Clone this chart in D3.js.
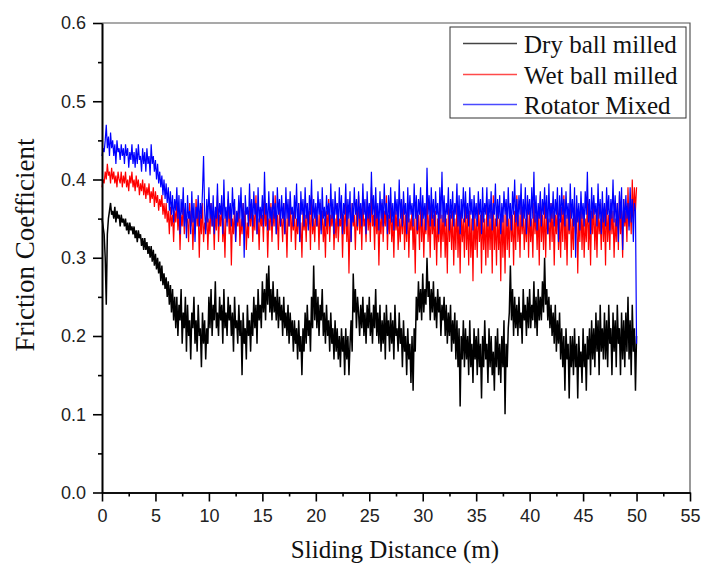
<!DOCTYPE html>
<html>
<head>
<meta charset="utf-8">
<script src="https://cdn.jsdelivr.net/npm/d3@7"></script>
<style>
  body { margin: 0; background: #fff; }
  svg { display: block; }
  .title { font-family: "Liberation Serif", "Times New Roman", serif; font-size: 25px; fill: #111; }
</style>
</head>
<body>
<svg id="chart" width="702" height="564"></svg>
<script>
// traces read every 0.1 m, 0 .. 50 m (one row = 1 m)
var step = 0.1;

var dryBallMilled = [
  0.35, 0.34, 0.33, 0.30, 0.24, 0.33, 0.35, 0.36, 0.37, 0.355,
  0.36, 0.35, 0.365, 0.345, 0.36, 0.35, 0.355, 0.34, 0.355, 0.345,
  0.35, 0.34, 0.35, 0.335, 0.345, 0.33, 0.345, 0.335, 0.34, 0.33,
  0.34, 0.325, 0.335, 0.32, 0.335, 0.325, 0.33, 0.315, 0.325, 0.31,
  0.325, 0.31, 0.32, 0.305, 0.315, 0.30, 0.315, 0.295, 0.31, 0.29,
  0.305, 0.285, 0.30, 0.28, 0.295, 0.27, 0.29, 0.265, 0.28, 0.26,
  0.275, 0.25, 0.27, 0.24, 0.265, 0.23, 0.26, 0.22, 0.25, 0.21,
  0.25, 0.20, 0.24, 0.22, 0.26, 0.19, 0.23, 0.21, 0.25, 0.18,
  0.24, 0.20, 0.22, 0.17, 0.23, 0.21, 0.25, 0.19, 0.22, 0.18,
  0.24, 0.20, 0.21, 0.16, 0.23, 0.19, 0.22, 0.17, 0.21, 0.19,
  0.25, 0.21, 0.26, 0.20, 0.24, 0.22, 0.27, 0.21, 0.23, 0.20,
  0.25, 0.22, 0.24, 0.19, 0.26, 0.21, 0.23, 0.20, 0.25, 0.22,
  0.24, 0.20, 0.23, 0.18, 0.25, 0.21, 0.22, 0.19, 0.24, 0.20,
  0.22, 0.15, 0.23, 0.19, 0.21, 0.17, 0.24, 0.20, 0.22, 0.18,
  0.23, 0.20, 0.25, 0.21, 0.24, 0.19, 0.26, 0.22, 0.24, 0.21,
  0.27, 0.23, 0.26, 0.22, 0.28, 0.24, 0.29, 0.23, 0.26, 0.22,
  0.27, 0.23, 0.25, 0.22, 0.26, 0.21, 0.25, 0.22, 0.24, 0.20,
  0.25, 0.21, 0.23, 0.20, 0.24, 0.19, 0.23, 0.20, 0.22, 0.18,
  0.22, 0.19, 0.21, 0.17, 0.22, 0.18, 0.20, 0.15, 0.21, 0.18,
  0.23, 0.19, 0.24, 0.20, 0.22, 0.18, 0.25, 0.21, 0.29, 0.22,
  0.26, 0.21, 0.25, 0.20, 0.24, 0.22, 0.26, 0.20, 0.23, 0.19,
  0.24, 0.20, 0.22, 0.18, 0.23, 0.19, 0.21, 0.17, 0.22, 0.18,
  0.21, 0.17, 0.20, 0.16, 0.21, 0.18, 0.20, 0.15, 0.21, 0.17,
  0.20, 0.15, 0.19, 0.22, 0.18, 0.28, 0.23, 0.26, 0.21, 0.25,
  0.23, 0.20, 0.24, 0.21, 0.25, 0.20, 0.23, 0.19, 0.24, 0.21,
  0.25, 0.20, 0.23, 0.19, 0.24, 0.21, 0.26, 0.20, 0.23, 0.19,
  0.24, 0.18, 0.22, 0.19, 0.23, 0.17, 0.24, 0.20, 0.22, 0.18,
  0.23, 0.19, 0.22, 0.17, 0.24, 0.20, 0.21, 0.18, 0.23, 0.19,
  0.21, 0.16, 0.22, 0.18, 0.20, 0.15, 0.21, 0.17, 0.19, 0.14,
  0.20, 0.13, 0.21, 0.18, 0.25, 0.22, 0.27, 0.23, 0.26, 0.22,
  0.28, 0.23, 0.26, 0.24, 0.30, 0.25, 0.27, 0.22, 0.26, 0.23,
  0.27, 0.22, 0.25, 0.21, 0.26, 0.23, 0.25, 0.20, 0.24, 0.22,
  0.25, 0.20, 0.24, 0.19, 0.23, 0.20, 0.24, 0.18, 0.22, 0.19,
  0.23, 0.17, 0.22, 0.16, 0.21, 0.11, 0.20, 0.17, 0.22, 0.16,
  0.21, 0.17, 0.20, 0.15, 0.22, 0.16, 0.19, 0.14, 0.21, 0.17,
  0.20, 0.15, 0.21, 0.16, 0.19, 0.12, 0.20, 0.16, 0.22, 0.17,
  0.19, 0.14, 0.21, 0.16, 0.20, 0.15, 0.18, 0.13, 0.20, 0.16,
  0.21, 0.15, 0.19, 0.14, 0.20, 0.16, 0.22, 0.10, 0.19, 0.16,
  0.21, 0.23, 0.29, 0.22, 0.26, 0.20, 0.25, 0.21, 0.24, 0.20,
  0.25, 0.21, 0.23, 0.19, 0.26, 0.22, 0.24, 0.20, 0.25, 0.21,
  0.26, 0.21, 0.24, 0.22, 0.27, 0.21, 0.25, 0.20, 0.26, 0.22,
  0.25, 0.22, 0.27, 0.23, 0.30, 0.24, 0.26, 0.22, 0.25, 0.21,
  0.24, 0.20, 0.23, 0.19, 0.24, 0.18, 0.22, 0.19, 0.23, 0.17,
  0.21, 0.16, 0.20, 0.13, 0.21, 0.17, 0.19, 0.12, 0.20, 0.16,
  0.20, 0.15, 0.21, 0.16, 0.19, 0.12, 0.20, 0.16, 0.18, 0.14,
  0.21, 0.16, 0.19, 0.13, 0.20, 0.17, 0.21, 0.15, 0.22, 0.17,
  0.21, 0.16, 0.23, 0.18, 0.22, 0.15, 0.24, 0.18, 0.21, 0.17,
  0.23, 0.17, 0.22, 0.16, 0.24, 0.19, 0.21, 0.15, 0.23, 0.18,
  0.22, 0.16, 0.24, 0.19, 0.21, 0.15, 0.23, 0.17, 0.22, 0.16,
  0.23, 0.18, 0.25, 0.17, 0.22, 0.15, 0.24, 0.18, 0.21, 0.13,
  0.20
];

var wetBallMilled = [
  0.39, 0.40, 0.395, 0.41, 0.40, 0.42, 0.405, 0.41, 0.395, 0.415,
  0.40, 0.41, 0.395, 0.405, 0.39, 0.41, 0.40, 0.395, 0.41, 0.39,
  0.405, 0.395, 0.41, 0.39, 0.40, 0.385, 0.405, 0.395, 0.41, 0.39,
  0.40, 0.385, 0.405, 0.39, 0.40, 0.38, 0.395, 0.385, 0.40, 0.38,
  0.395, 0.375, 0.39, 0.38, 0.395, 0.37, 0.385, 0.375, 0.39, 0.365,
  0.385, 0.37, 0.38, 0.36, 0.375, 0.365, 0.38, 0.355, 0.37, 0.35,
  0.37, 0.345, 0.36, 0.33, 0.365, 0.34, 0.355, 0.32, 0.36, 0.345,
  0.37, 0.335, 0.36, 0.31, 0.355, 0.34, 0.37, 0.33, 0.36, 0.345,
  0.35, 0.32, 0.37, 0.34, 0.36, 0.31, 0.35, 0.33, 0.375, 0.34,
  0.36, 0.30, 0.355, 0.33, 0.37, 0.32, 0.345, 0.335, 0.36, 0.31,
  0.35, 0.33, 0.37, 0.34, 0.355, 0.31, 0.36, 0.335, 0.38, 0.32,
  0.355, 0.34, 0.37, 0.32, 0.35, 0.30, 0.36, 0.345, 0.375, 0.33,
  0.36, 0.29, 0.35, 0.33, 0.365, 0.32, 0.355, 0.34, 0.37, 0.315,
  0.35, 0.33, 0.37, 0.34, 0.36, 0.31, 0.345, 0.325, 0.365, 0.34,
  0.37, 0.32, 0.355, 0.335, 0.38, 0.33, 0.35, 0.31, 0.36, 0.34,
  0.355, 0.32, 0.375, 0.34, 0.36, 0.30, 0.35, 0.335, 0.37, 0.32,
  0.36, 0.34, 0.38, 0.33, 0.355, 0.31, 0.365, 0.34, 0.35, 0.32,
  0.37, 0.33, 0.35, 0.30, 0.36, 0.34, 0.375, 0.32, 0.355, 0.335,
  0.36, 0.31, 0.35, 0.33, 0.37, 0.32, 0.345, 0.30, 0.36, 0.335,
  0.355, 0.32, 0.37, 0.34, 0.36, 0.31, 0.38, 0.33, 0.35, 0.32,
  0.365, 0.34, 0.355, 0.31, 0.37, 0.335, 0.36, 0.32, 0.35, 0.30,
  0.36, 0.33, 0.375, 0.32, 0.355, 0.34, 0.365, 0.31, 0.35, 0.325,
  0.37, 0.32, 0.35, 0.34, 0.36, 0.30, 0.355, 0.33, 0.375, 0.32,
  0.36, 0.28, 0.35, 0.32, 0.37, 0.34, 0.355, 0.31, 0.36, 0.335,
  0.38, 0.33, 0.36, 0.31, 0.37, 0.34, 0.35, 0.32, 0.375, 0.335,
  0.36, 0.32, 0.39, 0.34, 0.355, 0.31, 0.37, 0.33, 0.36, 0.29,
  0.35, 0.33, 0.37, 0.32, 0.36, 0.34, 0.38, 0.31, 0.355, 0.33,
  0.37, 0.32, 0.35, 0.30, 0.365, 0.335, 0.36, 0.31, 0.35, 0.32,
  0.36, 0.33, 0.375, 0.31, 0.355, 0.32, 0.37, 0.30, 0.35, 0.335,
  0.36, 0.31, 0.35, 0.28, 0.365, 0.33, 0.355, 0.31, 0.37, 0.32,
  0.36, 0.30, 0.35, 0.33, 0.39, 0.32, 0.355, 0.30, 0.37, 0.33,
  0.355, 0.31, 0.36, 0.29, 0.35, 0.32, 0.37, 0.30, 0.355, 0.32,
  0.36, 0.30, 0.35, 0.28, 0.37, 0.32, 0.355, 0.31, 0.36, 0.29,
  0.35, 0.31, 0.37, 0.30, 0.355, 0.28, 0.36, 0.32, 0.35, 0.30,
  0.37, 0.31, 0.355, 0.29, 0.36, 0.30, 0.35, 0.27, 0.365, 0.31,
  0.35, 0.30, 0.37, 0.32, 0.355, 0.28, 0.36, 0.31, 0.35, 0.29,
  0.37, 0.30, 0.355, 0.31, 0.36, 0.28, 0.38, 0.31, 0.35, 0.29,
  0.36, 0.31, 0.35, 0.27, 0.365, 0.30, 0.355, 0.28, 0.37, 0.31,
  0.35, 0.30, 0.37, 0.32, 0.355, 0.29, 0.36, 0.31, 0.38, 0.32,
  0.355, 0.30, 0.37, 0.33, 0.36, 0.31, 0.35, 0.32, 0.375, 0.30,
  0.36, 0.32, 0.35, 0.30, 0.37, 0.33, 0.355, 0.31, 0.36, 0.29,
  0.38, 0.32, 0.355, 0.31, 0.37, 0.30, 0.36, 0.33, 0.35, 0.31,
  0.37, 0.32, 0.36, 0.29, 0.355, 0.33, 0.37, 0.31, 0.35, 0.30,
  0.365, 0.32, 0.38, 0.31, 0.355, 0.29, 0.36, 0.33, 0.37, 0.30,
  0.35, 0.31, 0.37, 0.33, 0.36, 0.28, 0.355, 0.32, 0.37, 0.31,
  0.36, 0.30, 0.35, 0.32, 0.38, 0.31, 0.355, 0.29, 0.36, 0.33,
  0.37, 0.31, 0.355, 0.30, 0.365, 0.33, 0.35, 0.31, 0.37, 0.32,
  0.36, 0.29, 0.375, 0.32, 0.355, 0.31, 0.37, 0.33, 0.36, 0.30,
  0.35, 0.32, 0.37, 0.31, 0.38, 0.33, 0.36, 0.30, 0.375, 0.34,
  0.36, 0.32, 0.39, 0.34, 0.37, 0.33, 0.40, 0.35, 0.39, 0.36,
  0.39
];

var rotatorMixed = [
  0.43, 0.44, 0.435, 0.45, 0.47, 0.44, 0.455, 0.43, 0.46, 0.44,
  0.45, 0.43, 0.445, 0.42, 0.45, 0.435, 0.44, 0.425, 0.445, 0.43,
  0.44, 0.42, 0.445, 0.43, 0.44, 0.415, 0.435, 0.425, 0.445, 0.42,
  0.435, 0.415, 0.44, 0.42, 0.445, 0.425, 0.43, 0.41, 0.44, 0.42,
  0.435, 0.41, 0.44, 0.42, 0.43, 0.405, 0.445, 0.42, 0.43, 0.41,
  0.425, 0.40, 0.42, 0.395, 0.41, 0.39, 0.405, 0.38, 0.40, 0.375,
  0.395, 0.37, 0.39, 0.36, 0.385, 0.355, 0.38, 0.345, 0.375, 0.36,
  0.39, 0.35, 0.38, 0.33, 0.375, 0.355, 0.39, 0.34, 0.37, 0.325,
  0.38, 0.35, 0.36, 0.33, 0.385, 0.345, 0.37, 0.32, 0.365, 0.35,
  0.38, 0.34, 0.37, 0.35, 0.385, 0.43, 0.36, 0.33, 0.375, 0.345,
  0.39, 0.35, 0.37, 0.34, 0.38, 0.33, 0.365, 0.35, 0.395, 0.34,
  0.37, 0.355, 0.38, 0.33, 0.40, 0.35, 0.365, 0.34, 0.385, 0.35,
  0.37, 0.34, 0.39, 0.355, 0.375, 0.32, 0.36, 0.345, 0.38, 0.35,
  0.39, 0.34, 0.37, 0.30, 0.38, 0.355, 0.365, 0.34, 0.395, 0.35,
  0.375, 0.34, 0.385, 0.355, 0.37, 0.33, 0.39, 0.345, 0.365, 0.35,
  0.38, 0.34, 0.41, 0.355, 0.37, 0.335, 0.385, 0.35, 0.365, 0.34,
  0.385, 0.35, 0.37, 0.33, 0.39, 0.355, 0.375, 0.34, 0.38, 0.35,
  0.37, 0.33, 0.39, 0.35, 0.375, 0.34, 0.385, 0.355, 0.365, 0.34,
  0.38, 0.35, 0.395, 0.34, 0.37, 0.32, 0.385, 0.355, 0.375, 0.34,
  0.39, 0.35, 0.37, 0.335, 0.38, 0.355, 0.40, 0.34, 0.375, 0.35,
  0.37, 0.34, 0.385, 0.355, 0.375, 0.33, 0.39, 0.35, 0.365, 0.34,
  0.38, 0.355, 0.37, 0.34, 0.395, 0.35, 0.375, 0.33, 0.385, 0.355,
  0.37, 0.34, 0.39, 0.35, 0.38, 0.33, 0.37, 0.355, 0.395, 0.34,
  0.375, 0.35, 0.385, 0.32, 0.37, 0.345, 0.39, 0.355, 0.375, 0.34,
  0.385, 0.35, 0.37, 0.34, 0.395, 0.355, 0.375, 0.33, 0.385, 0.35,
  0.37, 0.345, 0.41, 0.355, 0.38, 0.34, 0.39, 0.35, 0.37, 0.335,
  0.385, 0.35, 0.375, 0.34, 0.395, 0.355, 0.37, 0.33, 0.38, 0.35,
  0.39, 0.345, 0.37, 0.335, 0.385, 0.355, 0.375, 0.34, 0.40, 0.35,
  0.375, 0.34, 0.385, 0.355, 0.37, 0.33, 0.39, 0.345, 0.38, 0.355,
  0.37, 0.34, 0.395, 0.35, 0.38, 0.335, 0.375, 0.355, 0.39, 0.34,
  0.38, 0.35, 0.37, 0.335, 0.415, 0.355, 0.38, 0.34, 0.39, 0.35,
  0.375, 0.34, 0.385, 0.355, 0.37, 0.33, 0.39, 0.35, 0.41, 0.345,
  0.38, 0.34, 0.37, 0.355, 0.39, 0.335, 0.375, 0.35, 0.385, 0.34,
  0.37, 0.355, 0.395, 0.34, 0.38, 0.33, 0.375, 0.35, 0.39, 0.345,
  0.385, 0.35, 0.37, 0.34, 0.39, 0.355, 0.375, 0.335, 0.38, 0.35,
  0.37, 0.34, 0.385, 0.355, 0.375, 0.33, 0.39, 0.345, 0.37, 0.355,
  0.39, 0.34, 0.375, 0.35, 0.385, 0.335, 0.37, 0.355, 0.395, 0.34,
  0.375, 0.35, 0.38, 0.33, 0.37, 0.345, 0.385, 0.355, 0.375, 0.34,
  0.39, 0.35, 0.37, 0.335, 0.385, 0.355, 0.40, 0.345, 0.375, 0.34,
  0.38, 0.355, 0.395, 0.34, 0.375, 0.35, 0.39, 0.33, 0.38, 0.355,
  0.375, 0.34, 0.39, 0.35, 0.41, 0.345, 0.38, 0.335, 0.37, 0.35,
  0.385, 0.34, 0.375, 0.355, 0.39, 0.35, 0.38, 0.33, 0.395, 0.345,
  0.37, 0.35, 0.385, 0.34, 0.375, 0.355, 0.39, 0.32, 0.38, 0.345,
  0.39, 0.355, 0.375, 0.34, 0.385, 0.35, 0.37, 0.335, 0.395, 0.35,
  0.375, 0.34, 0.39, 0.30, 0.38, 0.345, 0.37, 0.335, 0.385, 0.35,
  0.37, 0.34, 0.385, 0.355, 0.41, 0.345, 0.375, 0.33, 0.39, 0.35,
  0.38, 0.355, 0.37, 0.34, 0.395, 0.35, 0.375, 0.33, 0.385, 0.345,
  0.37, 0.34, 0.39, 0.355, 0.38, 0.335, 0.375, 0.35, 0.40, 0.345,
  0.38, 0.34, 0.37, 0.32, 0.385, 0.35, 0.39, 0.31, 0.375, 0.345,
  0.38, 0.35, 0.37, 0.335, 0.39, 0.345, 0.375, 0.32, 0.37, 0.36,
  0.19
];

var seriesNames = ["Dry ball milled", "Wet ball milled", "Rotator Mixed"];
var seriesColors = ["#000000", "#ff0000", "#0000ff"];
var seriesWidths = [1.5, 1.2, 1.2];
var legendColors = ["#444444", "#ff4a4a", "#4a4aff"];
var xTicks = [0, 5, 10, 15, 20, 25, 30, 35, 40, 45, 50, 55];
var yTicks = [0.0, 0.1, 0.2, 0.3, 0.4, 0.5, 0.6];

(function () {
    var svg = d3.select("#chart");
    var m = { left: 102, right: 690, top: 23, bottom: 492.5 };

    var x = d3.scaleLinear().domain([0, 55]).range([m.left, m.right]);
    var y = d3.scaleLinear().domain([0, 0.6]).range([m.bottom, m.top]);

    // frame (top / right)
    svg.append("path")
        .attr("d", "M" + m.left + "," + m.top + "H" + m.right + "V" + m.bottom)
        .attr("fill", "none").attr("stroke", "#555").attr("stroke-width", 1.2);

    var line = d3.line()
        .x(function (d, i) { return x(i * step); })
        .y(function (d) { return y(d); });

    [dryBallMilled, wetBallMilled, rotatorMixed].forEach(function (s, k) {
        svg.append("path")
            .datum(s)
            .attr("d", line)
            .attr("fill", "none")
            .attr("stroke", seriesColors[k])
            .attr("stroke-width", seriesWidths[k]);
    });

    // axes
    var xAxis = svg.append("g").attr("transform", "translate(0," + m.bottom + ")")
        .call(d3.axisBottom(x).tickValues(xTicks).tickSize(9).tickSizeOuter(0).tickPadding(8)
            .tickFormat(d3.format("d")));
    var xMinor = svg.append("g").attr("transform", "translate(0," + m.bottom + ")")
        .call(d3.axisBottom(x).tickValues(xTicks.slice(0, -1).map(function (v) { return v + 2.5; }))
            .tickSize(4).tickSizeOuter(0).tickFormat(""));
    var yAxis = svg.append("g").attr("transform", "translate(" + m.left + ",0)")
        .call(d3.axisLeft(y).tickValues(yTicks).tickSize(9).tickSizeOuter(0).tickPadding(7)
            .tickFormat(d3.format(".1f")));
    var yMinor = svg.append("g").attr("transform", "translate(" + m.left + ",0)")
        .call(d3.axisLeft(y).tickValues(yTicks.slice(0, -1).map(function (v) { return v + 0.05; }))
            .tickSize(4).tickSizeOuter(0).tickFormat(""));

    [xAxis, xMinor, yAxis, yMinor].forEach(function (g) {
        g.attr("font-family", "'Liberation Sans', Arial, sans-serif").attr("font-size", 18);
        g.select(".domain").attr("stroke", "#000").attr("stroke-width", 1.6);
        g.selectAll(".tick line").attr("stroke", "#000").attr("stroke-width", 1.6);
        g.selectAll(".tick text").attr("fill", "#222");
    });

    // titles
    svg.append("text").attr("class", "title")
        .attr("x", 395).attr("y", 558).attr("text-anchor", "middle")
        .text("Sliding Distance (m)");
    svg.append("text").attr("class", "title")
        .attr("transform", "translate(34,245) rotate(-90)")
        .attr("text-anchor", "middle")
        .style("font-size", "27px")
        .text("Friction Coefficient");

    // legend
    var legend = svg.append("g");
    legend.append("rect")
        .attr("x", 450).attr("y", 27).attr("width", 236).attr("height", 91)
        .attr("fill", "#fff").attr("stroke", "#333").attr("stroke-width", 1);
    seriesNames.forEach(function (name, k) {
        var ly = Math.round(43 + k * 30.5) + 0.5;
        legend.append("path")
            .attr("d", "M463," + ly + "H517")
            .attr("fill", "none")
            .attr("stroke", legendColors[k]).attr("stroke-width", 1.5);
        legend.append("text").attr("class", "title")
            .attr("x", 524).attr("y", ly + 9)
            .text(name);
    });
})();
</script>
</body>
</html>
